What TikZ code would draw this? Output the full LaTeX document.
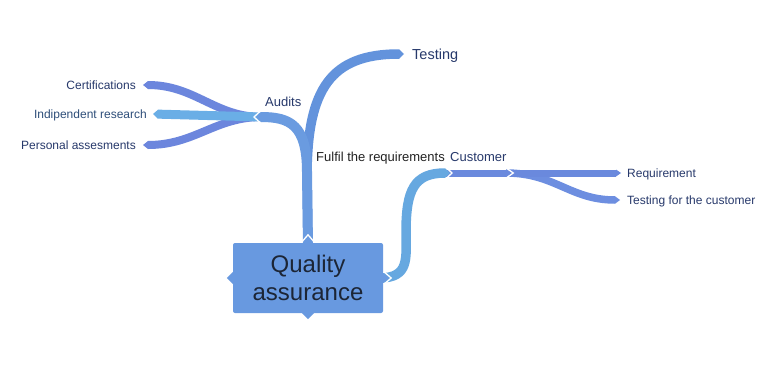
\documentclass[tikz,border=0pt]{standalone}
\usepackage{fontspec}
\setmainfont{Liberation Sans}
\usetikzlibrary{arrows.meta,backgrounds}
\definecolor{boxc}{HTML}{6899E0}
\definecolor{trunkc}{HTML}{6A9BE0}
\definecolor{testc}{HTML}{6393DC}
\definecolor{custc}{HTML}{66A8E0}
\definecolor{indc}{HTML}{6AAEE6}
\definecolor{perc}{HTML}{6C86DD}
\definecolor{segc}{HTML}{6A89DD}
\definecolor{tfcc}{HTML}{6D8EE0}
\definecolor{navy}{HTML}{27396B}
\definecolor{indtext}{HTML}{2F4F7A}
\definecolor{qtext}{HTML}{1C2535}
\definecolor{darktext}{HTML}{222222}
\begin{document}
\begin{tikzpicture}[x=1pt,y=-1pt,
  br/.style={line width=#1pt, line cap=butt, -{Triangle[length=5pt,width=#1pt,line width=0pt]}},
  br/.default=9,
  notch/.style={draw=white, line width=1.3pt, line join=miter},
  lbl/.style={inner sep=0pt, text=navy, font=\fontsize{12}{14}\selectfont},
  mid/.style={inner sep=0pt, text=navy, font=\fontsize{13}{15}\selectfont},
  qabox/.style={fill=boxc, rounded corners=2pt, minimum width=150pt, minimum height=70pt,
    inner sep=0pt, align=center, text=qtext, font=\fontsize{24}{27.5}\selectfont}]
\useasboundingbox (0,0) rectangle (767,364);

% central node
\node[qabox] (qa) at (308,278) {Quality\\assurance};

% labels
\node[lbl, anchor=base east] (cert) at (136,89) {Certifications};
\node[lbl, anchor=base east, text=indtext] (ind) at (147,118) {Indipendent research};
\node[lbl, anchor=base east] (pers) at (136,149) {Personal assesments};
\node[mid, anchor=base west] (audits) at (265,106) {Audits};
\node[mid, anchor=base west, text=darktext] (fulfil) at (316,161.5) {Fulfil the requirements};
\node[mid, anchor=base west] (customer) at (450,161.5) {Customer};
\node[lbl, anchor=base west] (req) at (627,177) {Requirement};
\node[lbl, anchor=base west] (tfc) at (627,204) {Testing for the customer};
\node[inner sep=0pt, text=navy, font=\fontsize{14.5}{17}\selectfont, anchor=base west] (testing) at (412,59) {Testing};

% branch points
\coordinate (split) at (307,172);
\coordinate (aud) at (256,117);
\coordinate (junA) at (262,117);
\coordinate (tTest) at (404,54);
\coordinate (tCert) at (143,85);
\coordinate (tInd) at (153,114);
\coordinate (tPers) at (143,145);
\coordinate (cust) at (450,173);
\coordinate (custS) at (445,173);
\coordinate (seg) at (511,173);
\coordinate (segS) at (506,173);
\coordinate (tReq) at (621,173);
\coordinate (tTfc) at (620,200);

\begin{pgfonlayer}{background}
  \fill[white] (0,0) rectangle (767,364);
  % audits sub-branches
  \draw[br=8, perc] (junA) .. controls (215,117) and (195,85) .. (tCert);
  \draw[br=8, perc] (junA) .. controls (215,117) and (195,145) .. (tPers);
  \draw[br=9, indc] (junA) -- (tInd);
  % trunk
  \draw[br=9.5, testc] ([yshift=-4pt]qa.north) -- (split) .. controls (308,90) and (330,54) .. (tTest);
  \draw[br=10, trunkc] ([yshift=-4pt]qa.north) -- (split) .. controls (307,125) and (290,117) .. (aud);
  % customer side
  \draw[br=7.5, tfcc] (segS) .. controls (555,173) and (570,200) .. (tTfc);
  \draw[br=7, segc] (segS) -- (tReq);
  \draw[br=7, segc] (custS) -- (seg);
  \draw[br=9.5, custc] ([xshift=-4pt]qa.east) .. controls (410,278) and (406,258) .. (406,232)
     .. controls (406,190) and (414,173) .. (cust);
\end{pgfonlayer}

% little points on the box
\fill[boxc] ([xshift=-5pt]qa.north) -- ([yshift=6pt]qa.north) -- ([xshift=5pt]qa.north) -- cycle;
\fill[boxc] ([xshift=-6pt]qa.south) -- ([yshift=-6pt]qa.south) -- ([xshift=6pt]qa.south) -- cycle;
\fill[boxc] ([yshift=6pt]qa.west) -- ([xshift=-6pt]qa.west) -- ([yshift=-6pt]qa.west) -- cycle;
\fill[boxc] ([yshift=5pt]qa.east) -- ([xshift=6pt]qa.east) -- ([yshift=-5pt]qa.east) -- cycle;

% notches
\draw[notch] ([shift={(-6.2pt,0.8pt)}]qa.north) -- ([yshift=8pt]qa.north) -- ([shift={(6.2pt,0.8pt)}]qa.north);
\draw[notch] ([shift={(0.8pt,6.2pt)}]qa.east) -- ([xshift=8pt]qa.east) -- ([shift={(0.8pt,-6.2pt)}]qa.east);
\draw[notch] (260,111.4) -- (254.0,117) -- (260,122.6);
\draw[notch] (446,167.4) -- (452,173) -- (446,178.6);
\draw[notch] (507,168.6) -- (513.3,173) -- (507,177.4);
\end{tikzpicture}
\end{document}
